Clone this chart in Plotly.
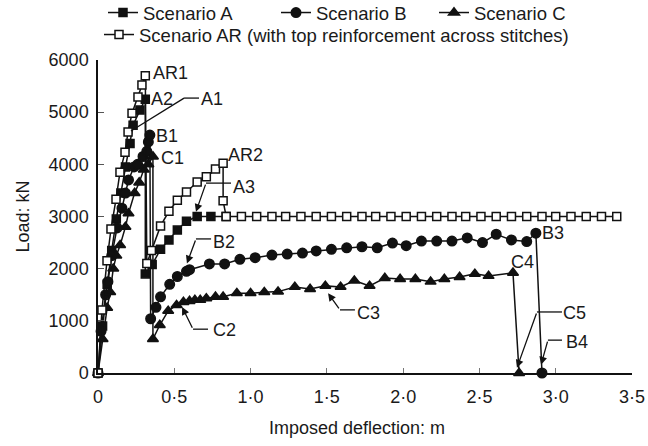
import plotly.graph_objects as go

# ---- data ----
a_x = [0, 0.03, 0.06, 0.09, 0.12, 0.15, 0.18, 0.21, 0.23, 0.275, 0.31, 0.31, 0.355, 0.41, 0.465, 0.52, 0.58, 0.65, 0.74, 0.84]
a_y = [0, 900, 1700, 2350, 2950, 3450, 3950, 4400, 4750, 5040, 5250, 1900, 2080, 2370, 2550, 2740, 2910, 3000, 3000, 3000]

b_x = [0, 0.02, 0.05, 0.065, 0.09, 0.125, 0.157, 0.18, 0.20, 0.236, 0.26, 0.295, 0.32, 0.33, 0.34,
       0.345, 0.38, 0.41, 0.47, 0.52, 0.58, 0.60, 0.73, 0.83, 0.93, 1.03, 1.14, 1.24, 1.34, 1.43, 1.53,
       1.63, 1.73, 1.83, 1.93, 2.02, 2.12, 2.22, 2.32, 2.42, 2.52, 2.61, 2.71, 2.81, 2.87, 2.91]
b_y = [0, 800, 1500, 1750, 2250, 2780, 3160, 3450, 3700, 3950, 4000, 4150, 4250, 4430, 4560,
       1040, 1260, 1460, 1700, 1850, 1950, 1980, 2090, 2090, 2180, 2210, 2260, 2280, 2300, 2340, 2370,
       2400, 2420, 2400, 2490, 2440, 2530, 2530, 2530, 2590, 2500, 2660, 2550, 2520, 2680, 0]

c_x = [0, 0.03, 0.06, 0.08, 0.10, 0.12, 0.145, 0.18, 0.20, 0.24, 0.27, 0.30, 0.33, 0.36,
       0.36, 0.405, 0.46, 0.515, 0.56, 0.60, 0.635, 0.67, 0.71, 0.77, 0.82, 0.91, 1.0, 1.09, 1.18,
       1.29, 1.39, 1.49, 1.59, 1.68, 1.78, 1.88, 1.98, 2.08, 2.18, 2.27, 2.37, 2.47, 2.56, 2.72, 2.76]
c_y = [0, 650, 1250, 1550, 2000, 2250, 2450, 2800, 3060, 3450, 3650, 3900, 4000, 4150,
       650, 920, 1190, 1300, 1360, 1380, 1400, 1400, 1430, 1460, 1460, 1530, 1530, 1550, 1560,
       1650, 1610, 1670, 1650, 1770, 1670, 1820, 1800, 1800, 1750, 1800, 1840, 1900, 1860, 1920, 0]

ar_x = [0, 0.026, 0.059, 0.085, 0.118, 0.144, 0.177, 0.197, 0.223, 0.262, 0.288, 0.31,
        0.32, 0.35, 0.41, 0.465, 0.52, 0.58, 0.65, 0.71, 0.77, 0.82, 0.82,
        0.84, 0.94, 1.04, 1.14, 1.23, 1.33, 1.43, 1.53, 1.63, 1.73, 1.82, 1.92, 2.02, 2.12,
        2.22, 2.32, 2.41, 2.51, 2.61, 2.71, 2.81, 2.91, 3.00, 3.10, 3.20, 3.30, 3.40]
ar_y = [0, 1210, 2150, 2760, 3330, 3850, 4230, 4620, 4980, 5290, 5520, 5700,
        2100, 2350, 2820, 3100, 3310, 3470, 3660, 3760, 3910, 4020, 3300,
        3000, 3000, 3000, 3000, 3000, 3000, 3000, 3000, 3000, 3000, 3000, 3000, 3000, 3000,
        3000, 3000, 3000, 3000, 3000, 3000, 3000, 3000, 3000, 3000, 3000, 3000, 3000]

x_tickvals = [0, 0.5, 1.0, 1.5, 2.0, 2.5, 3.0, 3.5]
x_ticktext = ["0", "0·5", "1·0", "1·5", "2·0", "2·5", "3·0", "3·5"]
y_tickvals = [0, 1000, 2000, 3000, 4000, 5000, 6000]

# plain labels: (text, x, y)
plain_labels = [("AR1", 0.472, 5750), ("A2", 0.419, 5250), ("B1", 0.452, 4540),
                ("C1", 0.485, 4120), ("AR2", 0.97, 4180), ("C4", 2.779, 2130),
                ("B3", 2.982, 2690)]
# leader labels: (text, text_x, text_y, elbow_end_x, elbow_start_x, elbow_y, tip_x, tip_y, arrow)
leader_labels = [("A1", 0.747, 5250, 0.662, 0.564, 5270, 0.216, 4640, False),
                 ("A3", 0.957, 3570, 0.872, 0.708, 3640, 0.642, 3090, True),
                 ("B2", 0.826, 2510, 0.741, 0.642, 2570, 0.583, 2100, True),
                 ("C2", 0.826, 820, 0.721, 0.623, 840, 0.551, 1265, True),
                 ("C3", 1.770, 1150, 1.684, 1.586, 1210, 1.508, 1530, True),
                 ("C5", 3.120, 1150, 3.041, 2.877, 1170, 2.746, 100, True),
                 ("B4", 3.140, 590, 3.041, 2.949, 630, 2.904, 160, True)]

FONT = "Liberation Sans, Arial, sans-serif"
TXT = "#1a1a1a"
LC = "#111111"

fig = go.Figure()

def add(x, y, name, symbol, size, fill, legend):
    fig.add_trace(go.Scatter(
        x=x, y=y, name=name, mode="lines+markers", cliponaxis=False,
        line=dict(color=LC, width=1.5),
        marker=dict(symbol=symbol, size=size, color=fill, line=dict(color=LC, width=1.5)),
        legend=legend))

add(a_x, a_y, "Scenario A", "square", 8, LC, "legend")
add(b_x, b_y, "Scenario B", "circle", 9.5, LC, "legend2")
add(c_x, c_y, "Scenario C", "triangle-up", 9.5, LC, "legend3")
add(ar_x, ar_y, "Scenario AR (with top reinforcement across stitches)", "square", 8, "white", "legend4")

annotations = []
for t, x, y in plain_labels:
    annotations.append(dict(x=x, y=y, xref="x", yref="y", text=t, showarrow=False,
                            font=dict(family=FONT, size=18, color=TXT)))

shapes = []
for t, tx, ty, ex, sx, ey, px, py, arrow in leader_labels:
    annotations.append(dict(x=tx, y=ty, xref="x", yref="y", text=t, showarrow=False,
                            font=dict(family=FONT, size=18, color=TXT)))
    shapes.append(dict(type="line", xref="x", yref="y", x0=ex, y0=ey, x1=sx, y1=ey,
                       line=dict(color=LC, width=1.3)))
    if arrow:
        annotations.append(dict(x=px, y=py, xref="x", yref="y", ax=sx, ay=ey, axref="x", ayref="y",
                                text="", showarrow=True, arrowhead=2, arrowsize=1.2,
                                arrowwidth=1.3, arrowcolor=LC, standoff=0, startstandoff=0))
    else:
        shapes.append(dict(type="line", xref="x", yref="y", x0=sx, y0=ey, x1=px, y1=py,
                           line=dict(color=LC, width=1.3)))

# axis titles
annotations.append(dict(x=0, y=3000, xref="paper", yref="y", xshift=-76, xanchor="center",
                        yanchor="middle", text="Load: kN", textangle=-90, showarrow=False,
                        font=dict(family=FONT, size=18, color=TXT)))
annotations.append(dict(x=1.70, y=0, xref="x", yref="paper", yshift=-55, text="Imposed deflection: m",
                        showarrow=False, xanchor="center", yanchor="middle",
                        font=dict(family=FONT, size=18, color=TXT)))

W, H = 648, 446
def leg(px, py):
    return dict(xref="container", yref="container", x=px / W, y=1 - py / H,
                xanchor="left", yanchor="middle", bgcolor="rgba(0,0,0,0)",
                font=dict(family=FONT, size=18.5, color=TXT), orientation="h")

fig.update_layout(
    width=W, height=H,
    margin=dict(l=98, r=16, t=60, b=73, pad=0, autoexpand=False),
    paper_bgcolor="white", plot_bgcolor="white",
    font=dict(family=FONT, size=18, color=TXT),
    showlegend=True,
    legend=leg(103, 13), legend2=leg(276, 13), legend3=leg(434, 13), legend4=leg(99, 35),
    annotations=annotations, shapes=shapes,
    xaxis=dict(range=[0, 3.5], tickvals=x_tickvals, ticktext=x_ticktext, showline=True,
               linecolor=LC, linewidth=1.5, ticks="inside", ticklen=5, tickcolor="#777",
               showgrid=False, zeroline=False, ticklabelstandoff=7, automargin=False,
               tickfont=dict(family=FONT, size=18, color=TXT)),
    yaxis=dict(range=[0, 6000], tickvals=y_tickvals, showline=True, linecolor=LC, linewidth=1.5,
               ticks="inside", ticklen=6, tickcolor="#555", showgrid=False, zeroline=False,
               ticklabelstandoff=4, automargin=False, tickfont=dict(family=FONT, size=18, color=TXT)),
)

fig.write_html("out.html", config={"displayModeBar": False},
               post_script="document.body.style.margin='0';")
